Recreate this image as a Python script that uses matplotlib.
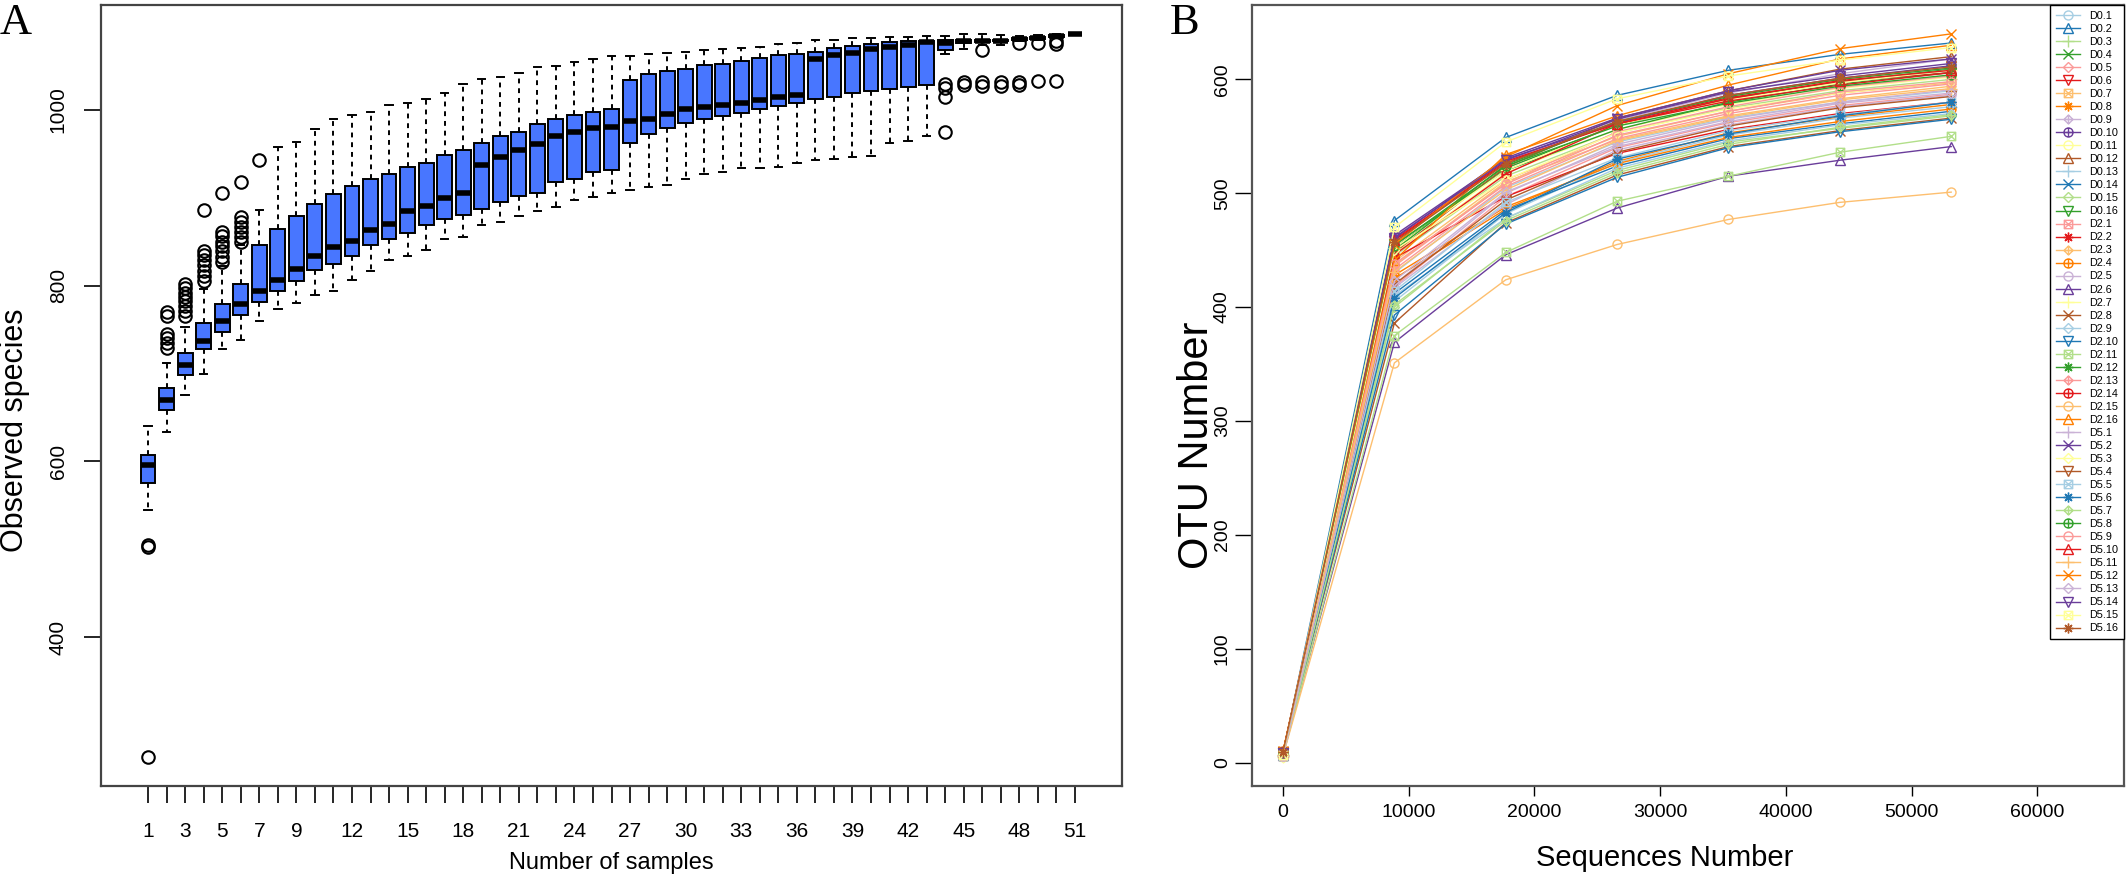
import numpy as np
import matplotlib
matplotlib.use("Agg")
import matplotlib.pyplot as plt
from matplotlib.path import Path

plt.rcParams['font.family'] = ['Liberation Sans', 'DejaVu Sans']

# ---------------- panel A: rarefaction boxplots ----------------
n_samples = list(range(1, 52))
whis_lo = [545, 633, 675, 700, 728, 738, 760, 773, 780, 789, 794, 807, 817, 829, 834, 841, 853,
           855, 869, 872, 879, 885, 890, 898, 901, 906, 909, 912, 915, 921, 927, 929, 934, 934,
           935, 940, 943, 944, 946, 948, 962, 965, 970, 1064, 1069, 1074, 1074, 1079, 1080, 1082, 1086]
q1 = [575, 658, 698, 728, 747, 767, 781, 794, 805, 818, 825, 834, 846, 853, 860, 869, 876,
      881, 887, 895, 902, 906, 918, 922, 929, 932, 962, 973, 980, 985, 990, 993, 997, 1001,
      1005, 1008, 1012, 1015, 1019, 1022, 1024, 1026, 1028, 1068, 1076, 1077, 1078, 1080, 1081, 1083, 1086]
med = [596, 670, 710, 737, 760, 779, 794, 807, 819, 834, 844, 851, 863, 870, 885, 891, 900,
       906, 937, 947, 955, 961, 970, 975, 979, 981, 987, 990, 995, 1001, 1003, 1006, 1008, 1011,
       1015, 1017, 1058, 1063, 1065, 1069, 1072, 1074, 1077, 1076, 1078, 1078, 1079, 1081, 1082, 1084, 1086]
q3 = [607, 683, 723, 757, 779, 802, 846, 865, 879, 893, 904, 913, 921, 927, 935, 940, 949,
      955, 962, 970, 975, 984, 990, 994, 998, 1001, 1034, 1041, 1044, 1047, 1051, 1052, 1056, 1059,
      1063, 1064, 1066, 1070, 1073, 1075, 1077, 1078, 1079, 1080, 1080, 1080, 1080, 1082, 1083, 1085, 1086]
whis_hi = [640, 712, 753, 796, 822, 846, 886, 958, 964, 978, 990, 994, 998, 1006, 1008, 1013, 1019,
           1030, 1035, 1037, 1042, 1049, 1050, 1055, 1058, 1061, 1062, 1064, 1065, 1066, 1068, 1069, 1071, 1072,
           1075, 1076, 1080, 1080, 1082, 1082, 1083, 1083, 1084, 1084, 1086, 1086, 1085, 1084, 1085, 1086, 1086]
outliers = {
    1: [505, 503, 264],
    2: [770, 766, 745, 740, 735, 729],
    3: [802, 797, 792, 787, 782, 777, 771, 766],
    4: [886, 840, 835, 829, 823, 817, 811, 805],
    5: [905, 861, 856, 850, 845, 839, 833, 827],
    6: [918, 878, 873, 867, 861, 855, 850],
    7: [943],
    44: [1030, 1025, 1015, 975],
    45: [1032, 1028],
    46: [1068, 1032, 1027],
    47: [1032, 1027],
    48: [1076, 1032, 1028],
    49: [1076, 1033],
    50: [1078, 1075, 1033],
}
a_xtick_labels = [1, 3, 5, 7, 9, 12, 15, 18, 21, 24, 27, 30, 33, 36, 39, 42, 45, 48, 51]

# ---------------- panel B: OTU rarefaction curves ----------------
seq_numbers = [0, 8860, 17720, 26580, 35440, 44300, 53160]
sample_names = ['D0.%d' % k for k in range(1, 17)] + ['D2.%d' % k for k in range(1, 17)] + \
               ['D5.%d' % k for k in range(1, 17)]
otu_values = [
    [7, 430, 505, 545, 566, 580, 590],   # D0.1
    [8, 476, 549, 586, 608, 622, 632],   # D0.2
    [6, 445, 515, 553, 575, 590, 600],   # D0.3
    [9, 452, 522, 560, 583, 598, 609],   # D0.4
    [7, 418, 497, 540, 562, 577, 587],   # D0.5
    [8, 458, 527, 562, 584, 598, 606],   # D0.6
    [6, 440, 512, 550, 572, 588, 597],   # D0.7
    [10, 425, 486, 528, 553, 567, 578],  # D0.8
    [7, 462, 528, 564, 588, 605, 618],   # D0.9
    [8, 463, 530, 562, 586, 601, 612],   # D0.10
    [5, 447, 518, 556, 578, 592, 602],   # D0.11
    [9, 448, 523, 566, 590, 609, 620],   # D0.12
    [6, 405, 482, 527, 551, 566, 576],   # D0.13
    [8, 412, 485, 524, 548, 561, 572],   # D0.14
    [7, 400, 478, 520, 545, 557, 568],   # D0.15
    [8, 455, 520, 556, 580, 596, 606],   # D0.16
    [6, 436, 509, 554, 576, 593, 603],   # D2.1
    [9, 443, 497, 535, 556, 570, 580],   # D2.2
    [7, 437, 510, 547, 568, 583, 594],   # D2.3
    [10, 428, 488, 526, 549, 563, 574],  # D2.4
    [6, 417, 490, 538, 560, 576, 586],   # D2.5
    [7, 369, 446, 487, 515, 529, 541],   # D2.6
    [5, 452, 520, 560, 582, 597, 608],   # D2.7
    [9, 386, 474, 516, 541, 555, 566],   # D2.8
    [6, 410, 478, 522, 546, 560, 570],   # D2.9
    [8, 393, 473, 514, 540, 554, 565],   # D2.10
    [6, 375, 448, 493, 515, 536, 550],   # D2.11
    [9, 450, 525, 563, 585, 600, 610],   # D2.12
    [7, 433, 506, 548, 570, 586, 596],   # D2.13
    [8, 446, 517, 561, 581, 595, 606],   # D2.14
    [6, 351, 424, 455, 477, 492, 501],   # D2.15
    [9, 441, 534, 568, 595, 618, 630],   # D2.16
    [7, 420, 500, 543, 565, 580, 591],   # D5.1
    [8, 460, 531, 566, 590, 608, 618],   # D5.2
    [5, 450, 512, 553, 574, 588, 598],   # D5.3
    [9, 420, 494, 536, 559, 575, 585],   # D5.4
    [6, 414, 492, 531, 555, 569, 580],   # D5.5
    [8, 408, 483, 530, 552, 568, 580],   # D5.6
    [7, 402, 476, 518, 543, 558, 569],   # D5.7
    [8, 454, 524, 559, 579, 594, 604],   # D5.8
    [6, 438, 508, 551, 572, 589, 598],   # D5.9
    [9, 459, 528, 561, 583, 599, 608],   # D5.10
    [7, 431, 503, 546, 567, 582, 592],   # D5.11
    [10, 455, 532, 577, 605, 627, 640],  # D5.12
    [6, 423, 501, 541, 563, 579, 588],   # D5.13
    [8, 461, 529, 565, 589, 603, 614],   # D5.14
    [7, 470, 545, 583, 603, 617, 628],   # D5.15
    [9, 457, 526, 563, 586, 601, 611],   # D5.16
]

paired = ['#A6CEE3', '#1F78B4', '#B2DF8A', '#33A02C', '#FB9A99', '#E31A1C',
          '#FDBF6F', '#FF7F00', '#CAB2D6', '#6A3D9A', '#FFFF99', '#B15928']

# R-like pch 1..10 markers
def lines_path(segs):
    verts, codes = [], []
    for a, b in segs:
        verts += [a, b]
        codes += [Path.MOVETO, Path.LINETO]
    return Path(verts, codes)

sq = Path([(-1, -1), (1, -1), (1, 1), (-1, 1), (-1, -1)], closed=True)
dia = Path([(0, -1), (1, 0), (0, 1), (-1, 0), (0, -1)], closed=True)
plus = lines_path([((-1, 0), (1, 0)), ((0, -1), (0, 1))])
cross = lines_path([((-1, -1), (1, 1)), ((-1, 1), (1, -1))])
sq_x = Path.make_compound_path(sq, cross)
dia_plus = Path.make_compound_path(dia, plus)
circ_plus = Path.make_compound_path(Path.unit_circle(), plus)
pch = ['o', '^', '+', 'x', 'D', 'v', sq_x, (8, 2, 0), dia_plus, circ_plus]
pch_size = [6.5, 7, 8, 6.5, 5.5, 7, 6, 7, 6.5, 6.5]

W, H = 2126, 880
fig = plt.figure(figsize=(W / 100, H / 100), dpi=100)

def frac_box(l, t, r, b):
    return [l / W, (H - b) / H, (r - l) / W, (b - t) / H]

# ---- panel A ----
axA = fig.add_axes(frac_box(101, 5, 1122, 786))
stats = []
for k, n in enumerate(n_samples):
    stats.append(dict(whislo=whis_lo[k], q1=q1[k], med=med[k], q3=q3[k], whishi=whis_hi[k],
                      fliers=outliers.get(n, [])))
axA.bxp(stats, positions=n_samples, widths=0.8, capwidths=0.4, patch_artist=True,
        boxprops=dict(facecolor='#4876FF', edgecolor='black', linewidth=1.4),
        whiskerprops=dict(color='black', linestyle=(0, (2.5, 2.5)), linewidth=1.4),
        capprops=dict(color='black', linewidth=1.4),
        medianprops=dict(color='black', linewidth=4, solid_capstyle='butt'),
        flierprops=dict(marker='o', markerfacecolor='none', markeredgecolor='black',
                        markersize=9, markeredgewidth=1.5))
axA.set_xlim(-1.54, 53.54)
axA.set_ylim(230.5, 1119.5)
axA.set_xticks(n_samples)
axA.set_xticklabels([str(n) if n in a_xtick_labels else '' for n in n_samples])
axA.set_yticks([400, 600, 800, 1000])
axA.tick_params(axis='x', length=12, width=1.2, pad=14, labelsize=15)
axA.tick_params(axis='y', length=12, width=1.2, pad=12, labelsize=15)
for lab in axA.get_yticklabels():
    lab.set_rotation(90)
    lab.set_va('center')
for s in axA.spines.values():
    s.set_color('#444444')
    s.set_linewidth(1.6)
fig.text(611 / W, 1 - 863 / H, 'Number of samples', ha='center', va='center', fontsize=17)
fig.text(15 / W, 1 - 430 / H, 'Observed species', ha='center', va='center', fontsize=22,
         rotation=90)

# ---- panel B ----
axB = fig.add_axes(frac_box(1251.6, 5.4, 2124, 786))
for k, name in enumerate(sample_names):
    m = pch[k % 10]
    axB.plot(seq_numbers, otu_values[k], color=paired[k % 12], linewidth=1.0,
             marker=m, markersize=pch_size[k % 10], markerfacecolor='none',
             markeredgecolor=paired[k % 12], markeredgewidth=1.0, label=name)
axB.set_xlim(-2498, 66905)
axB.set_ylim(-20.6, 665)
axB.set_xticks(range(0, 60001, 10000))
axB.set_yticks(range(0, 601, 100))
axB.tick_params(axis='x', length=7, width=1.0, pad=6, labelsize=14)
axB.tick_params(axis='y', length=12, width=1.0, pad=3, labelsize=14)
for lab in axB.get_yticklabels():
    lab.set_rotation(90)
    lab.set_va('center')
for s in axB.spines.values():
    s.set_color('#555555')
    s.set_linewidth(1.6)
leg = axB.legend(loc='upper right', bbox_to_anchor=(1.0, 1.0), borderaxespad=0, fontsize=7.8,
                 frameon=True, fancybox=False, edgecolor='black', framealpha=1,
                 labelspacing=0.28, handlelength=2.2, handletextpad=0.9, borderpad=0.5,
                 numpoints=1)
leg.get_frame().set_linewidth(1.0)
fig.text(1665 / W, 1 - 858 / H, 'Sequences Number', ha='center', va='center', fontsize=21)
fig.text(1197 / W, 1 - 445 / H, 'OTU Number', ha='center', va='center', fontsize=30,
         rotation=90)

# panel letters
fig.text(0 / W, 1 - 3 / H, 'A', ha='left', va='top', fontsize=32, family='Liberation Serif')
fig.text(1170 / W, 1 - 3 / H, 'B', ha='left', va='top', fontsize=32, family='Liberation Serif')

fig.savefig('out.png', dpi=100)
